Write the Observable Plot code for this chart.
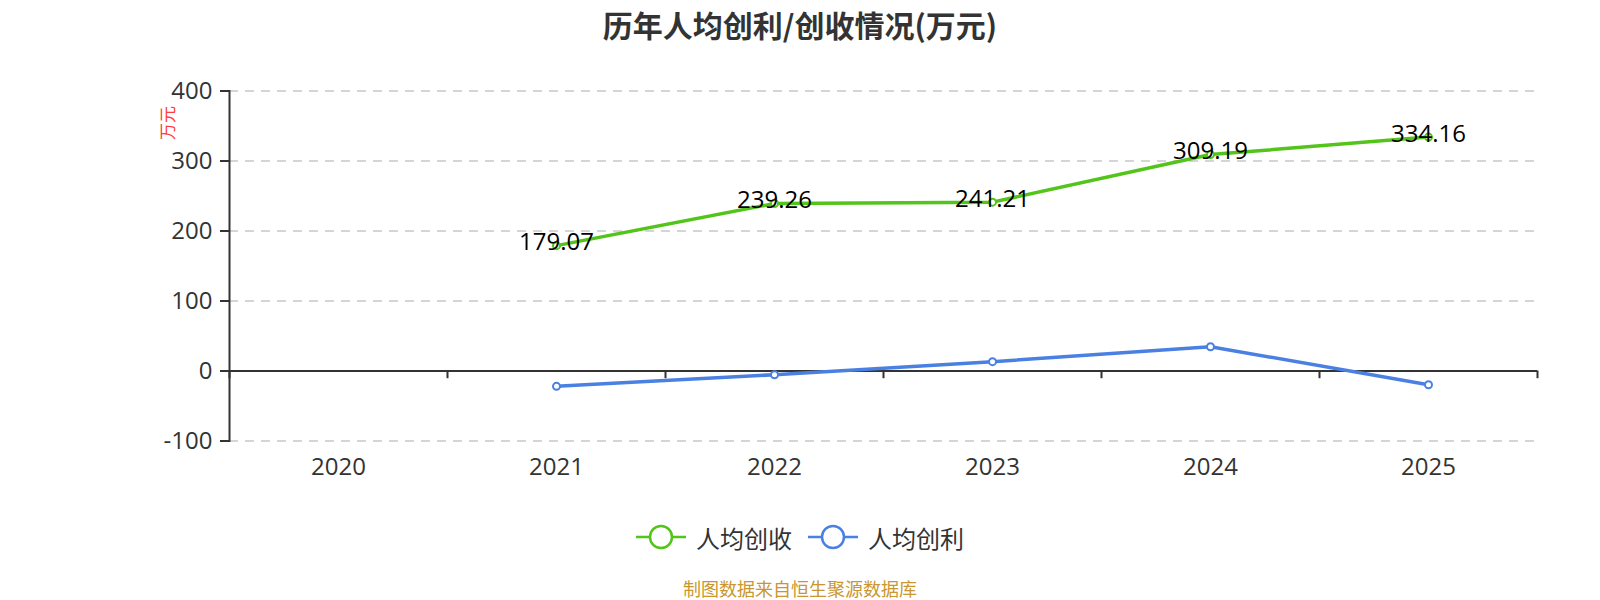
<!DOCTYPE html>
<html>
<head>
<meta charset="utf-8">
<script src="https://cdn.jsdelivr.net/npm/d3@7"></script>
<script src="https://cdn.jsdelivr.net/npm/@observablehq/plot@0.6"></script>
<style>
  html, body { margin: 0; padding: 0; background: #fff; }
  body { font-family: "Open Sans", "Noto Sans CJK SC", sans-serif; }
  #wrap { position: relative; width: 1600px; height: 600px; overflow: hidden; }
  #title { position: absolute; left: 0; top: 0; width: 1600px; height: 48px; line-height: 48px;
           text-align: center; font-size: 30px; font-weight: bold; color: #333;
           font-family: "Noto Sans CJK SC", "Open Sans", sans-serif; }
  #chart { position: absolute; left: 0; top: 48px; }
  #unit { position: absolute; left: 166px; top: 123px; transform: translate(-50%, -50%) rotate(-90deg);
          font-size: 17px; color: #ff3b3b; font-family: "Noto Sans CJK SC", sans-serif; white-space: nowrap; }
  #legend { position: absolute; left: 0; top: 518px; width: 1600px; height: 38px; display: flex;
            justify-content: center; align-items: center; gap: 0; }
  .item { display: flex; align-items: center; margin: 0 8px; }
  .item span { font-size: 24px; color: #333; margin-left: 10px; font-family: "Noto Sans CJK SC", sans-serif; }
  #caption { position: absolute; left: 0; top: 576px; width: 1600px; text-align: center; font-size: 18px;
             color: #c9962f; font-family: "Noto Sans CJK SC", sans-serif; line-height: 24px; }
</style>
</head>
<body>
<div id="wrap">
  <div id="title">历年人均创利/创收情况(万元)</div>
  <div id="chart"></div>
  <div id="unit">万元</div>
  <div id="legend"></div>
  <div id="caption">制图数据来自恒生聚源数据库</div>
</div>
<script>
// ---- data ----
const years = ["2020", "2021", "2022", "2023", "2024", "2025"];
const seriesYears = ["2021", "2022", "2023", "2024", "2025"];
const revenuePerCapita = [179.07, 239.26, 241.21, 309.19, 334.16]; // 人均创收
const profitPerCapita = [-21.9, -5.3, 13.3, 34.7, -19.6];           // 人均创利
const yTicks = [-100, 0, 100, 200, 300, 400];
const seriesNames = ["人均创收", "人均创利"];
const colors = ["#52c41a", "#4a80e2"];

const rev = seriesYears.map((y, i) => ({year: y, v: revenuePerCapita[i]}));
const prof = seriesYears.map((y, i) => ({year: y, v: profitPerCapita[i]}));

const W = 1600, H = 440, ML = 229, MR = 63;
const halfBand = (W - ML - MR) / years.length / 2;

const plot = Plot.plot({
  width: W, height: H,
  marginLeft: ML, marginRight: MR, marginTop: 42.5, marginBottom: 47.5,
  style: {fontFamily: "'Open Sans', 'Noto Sans CJK SC', sans-serif", background: "transparent"},
  x: {type: "band", domain: years, padding: 0},
  y: {domain: [-100, 400]},
  marks: [
    Plot.gridY(yTicks, {stroke: "#c8c8c8", strokeOpacity: 1, strokeWidth: 1.5, strokeDasharray: "9,7"}),
    Plot.axisY(yTicks, {tickSize: 9, tickPadding: 8, fontSize: 24, color: "#333", stroke: "#333", strokeWidth: 2, label: null, tickFormat: d => String(d)}),
    Plot.frame({anchor: "left", stroke: "#333", strokeWidth: 2}),
    Plot.axisX(years, {tickSize: 0, tickPadding: 17, fontSize: 24, color: "#333", label: null}),
    Plot.ruleY([0], {stroke: "#333", strokeWidth: 2}),
    Plot.ruleX(years, {x: d => d, y1: 0, y2: -11, dx: -halfBand, stroke: "#333", strokeWidth: 2}),
    Plot.ruleX(years.slice(-1), {x: d => d, y1: 0, y2: -11, dx: halfBand, stroke: "#333", strokeWidth: 2}),
    Plot.line(rev, {x: "year", y: "v", stroke: colors[0], strokeWidth: 3.5}),
    Plot.dot(rev, {x: "year", y: "v", r: 3.5, fill: "#fff", stroke: colors[0], strokeWidth: 2}),
    Plot.line(prof, {x: "year", y: "v", stroke: colors[1], strokeWidth: 3.5}),
    Plot.dot(prof, {x: "year", y: "v", r: 3.5, fill: "#fff", stroke: colors[1], strokeWidth: 2}),
    Plot.text(rev, {x: "year", y: "v", text: d => d.v.toFixed(2), fontSize: 24, fill: "#000", dy: -3})
  ]
});
document.getElementById("chart").appendChild(plot);

// legend
const legend = document.getElementById("legend");
seriesNames.forEach((name, i) => {
  const item = document.createElement("div");
  item.className = "item";
  item.innerHTML = `<svg width="50" height="26" viewBox="0 0 50 26">
      <line x1="0" y1="13" x2="50" y2="13" stroke="${colors[i]}" stroke-width="2.5"/>
      <circle cx="25" cy="13" r="11" fill="#fff" stroke="${colors[i]}" stroke-width="2.5"/>
    </svg><span>${name}</span>`;
  legend.appendChild(item);
});
</script>
</body>
</html>
